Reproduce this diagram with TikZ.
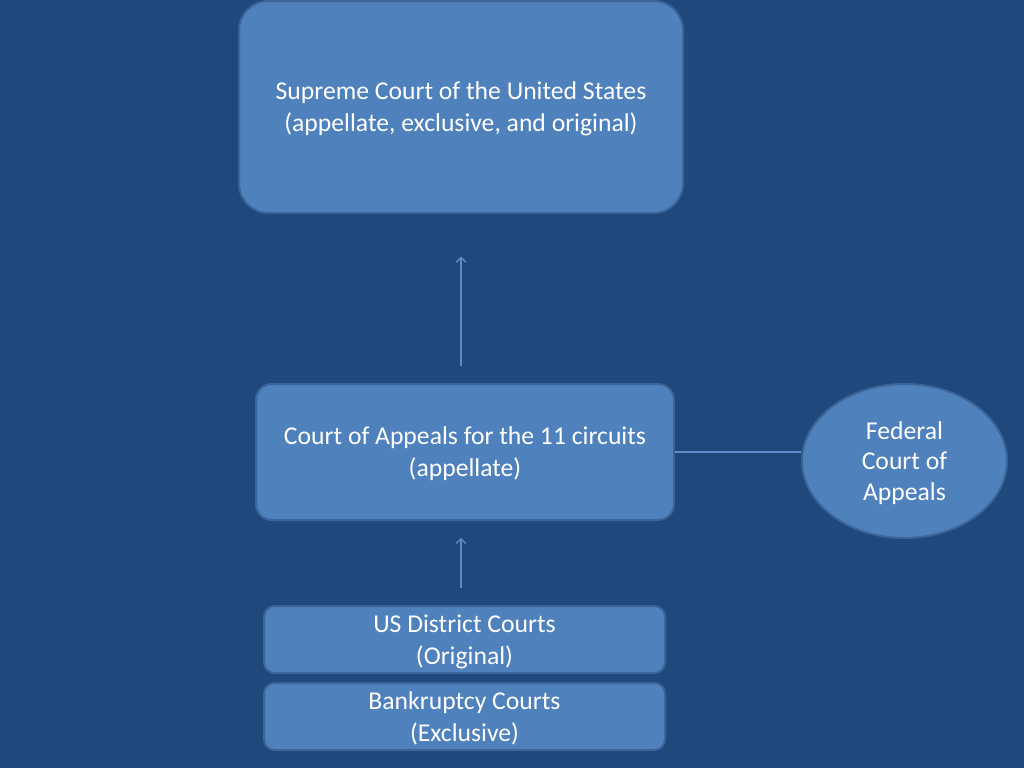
\documentclass[tikz,border=0pt]{standalone}
\usepackage{fontspec}
\setmainfont{Carlito}
\usetikzlibrary{shapes.geometric,arrows.meta}
\definecolor{slidebg}{HTML}{1F497D}
\definecolor{boxfill}{HTML}{4F81BD}
\definecolor{boxline}{HTML}{3B659A}
\definecolor{linkline}{HTML}{5C8DC8}
\tikzset{
    court/.style={rectangle,draw=boxline,fill=boxfill,line width=1.5pt,text=white,align=center,inner sep=0pt,text depth=0pt},
    circuit/.style={ellipse,draw=boxline,fill=boxfill,line width=1.5pt,text=white,align=center,inner sep=0pt,text depth=0pt},
    link/.style={draw=linkline,line width=1pt},
    uparrow/.style={link,-{Straight Barb[length=3.5pt,width=7.5pt]}}
}

\begin{document}
\begin{tikzpicture}[x=0.75pt,y=-0.75pt,font=\fontsize{19.25}{24}\selectfont]
                            \useasboundingbox[fill=slidebg] (0,0) rectangle (1024,768);
                            \node[court,rounded corners=22pt,minimum width=333pt,minimum height=159pt] (supreme) at (461,107) {Supreme Court of the United States\\(appellate, exclusive, and original)};
                            \node[court,rounded corners=12pt,minimum width=313.5pt,minimum height=102pt] (appeals) at (465,452) {Court of Appeals for the 11 circuits\\(appellate)};
                            \node[court,rounded corners=8pt,minimum width=300.75pt,minimum height=50.25pt] (district) at (464.5,639.5) {US District Courts\\(Original)};
                            \node[court,rounded corners=8pt,minimum width=300.75pt,minimum height=50.25pt] (bankruptcy) at (464.5,716.5) {Bankruptcy Courts\\(Exclusive)};
                            \node[circuit,minimum width=153.75pt,minimum height=115.5pt,font=\fontsize{19.25}{23}\selectfont] (federal) at (904.5,461) {Federal\\Court of\\Appeals};
                            \draw[uparrow,shorten <=12.75pt,shorten >=32pt] (supreme.south |- appeals.north) -- (supreme.south);
                            \draw[uparrow,shorten <=12.75pt,shorten >=12.75pt] (supreme.south |- district.north) -- (supreme.south |- appeals.south);
                            \draw[link] (appeals.east) -- (appeals.east -| federal.west);
                        \end{tikzpicture}
\end{document}
